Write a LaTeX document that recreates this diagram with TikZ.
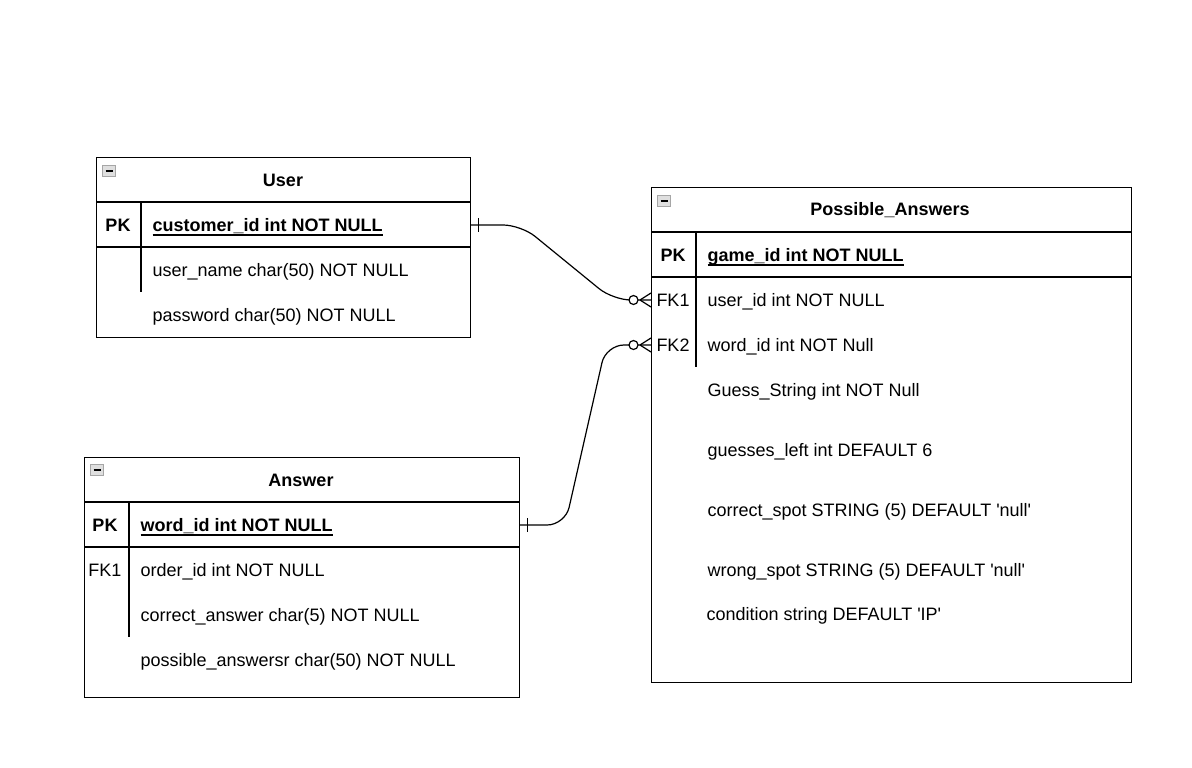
\documentclass[tikz,border=0pt]{standalone}
\usepackage{fontspec}
\setmainfont{Liberation Sans}
\usetikzlibrary{calc,positioning}
\tikzset{
  tabla/.style={draw=black,line width=1.1pt,anchor=north west,inner sep=0pt},
  titulo/.style={font=\fontsize{18}{21}\selectfont\bfseries,inner sep=0pt},
  campo/.style={anchor=west,font=\fontsize{18}{21}\selectfont,inner sep=0pt,yshift=-2pt},
  clave/.style={font=\fontsize{18}{21}\selectfont,inner sep=0pt},
  icono/.style={draw=gray!70,fill=gray!25,line width=0.6pt,minimum width=13pt,minimum height=11pt,inner sep=0pt},
  rel/.style={line width=1.2pt,rounded corners=18pt}
}
% subrayado propio (tapa el guion bajo)
\newcommand{\subr}[1]{\setbox0\hbox{#1}\rlap{\rule[-4pt]{\wd0}{1.6pt}}\box0}
% marcas de cardinalidad
\newcommand{\uno}[1]{\draw[line width=1.2pt] ($(#1)+(7,-7)$) -- ($(#1)+(7,7)$);}
\newcommand{\ceromuchos}[1]{%
  \draw[line width=1.2pt] ($(#1)+(-11,0)$) -- ($(#1)+(0,-7)$) ($(#1)+(-11,0)$) -- ($(#1)+(0,7)$);
  \draw[line width=1.2pt,fill=white] ($(#1)+(-17.5,0)$) circle (4.5);}

\begin{document}
\begin{tikzpicture}[x=1pt,y=-1pt,line width=1.1pt]
\useasboundingbox (0,0) rectangle (1192,768);
% tabla User
\node[tabla,minimum width=374pt,minimum height=180pt] (usr) at (96,157) {};
\node[icono] (usr-ic) at (109,171) {\rule{7pt}{1.8pt}};
\node[titulo] (usr-t) at (283,180) {User};
\draw (96,202) -- (470,202); \draw (96,247) -- (470,247);
\draw (141,202) -- (141,292);
\node[clave,font=\fontsize{18}{21}\selectfont\bfseries] (usr-pk) at (118,225) {PK};
\node[campo,font=\fontsize{18}{21}\selectfont\bfseries] (usr-id) at (152,225) {\subr{customer\_id int NOT NULL}};
\node[campo] (usr-nom) at (152,270) {user\_name char(50) NOT NULL};
\node[campo] (usr-pw) at (152,315) {password char(50) NOT NULL};
% tabla Possible_Answers
\node[tabla,minimum width=480pt,minimum height=495pt] (pa) at (651,187) {};
\node[icono] (pa-ic) at (664,201) {\rule{7pt}{1.8pt}};
\node[titulo] (pa-t) at (890,210) {Possible\_Answers};
\draw (651,232) -- (1131,232); \draw (651,277) -- (1131,277);
\draw (696,232) -- (696,367);
\node[clave,font=\fontsize{18}{21}\selectfont\bfseries] (pa-pk) at (673,255) {PK};
\node[clave] (pa-k1) at (673,300) {FK1};
\node[clave] (pa-k2) at (673,345) {FK2};
\node[campo,font=\fontsize{18}{21}\selectfont\bfseries] (pa-id) at (707,255) {\subr{game\_id int NOT NULL}};
\node[campo] (pa-fk1) at (707,300) {user\_id int NOT NULL};
\node[campo] (pa-fk2) at (707,345) {word\_id int NOT Null};
\node[campo] (pa-gs) at (707,390) {Guess\_String int NOT Null};
\node[campo] (pa-gl) at (707,450) {guesses\_left int DEFAULT 6};
\node[campo] (pa-cs) at (707,510) {correct\_spot STRING (5) DEFAULT \textquotesingle null\textquotesingle};
\node[campo] (pa-ws) at (707,570) {wrong\_spot STRING (5) DEFAULT \textquotesingle null\textquotesingle};
\node[campo] (pa-co) at (706,614) {condition string DEFAULT \textquotesingle IP\textquotesingle};
% tabla Answer
\node[tabla,minimum width=435pt,minimum height=240pt] (ans) at (84,457) {};
\node[icono] (ans-ic) at (97,470) {\rule{7pt}{1.8pt}};
\node[titulo] (ans-t) at (301,480) {Answer};
\draw (84,502) -- (519,502); \draw (84,547) -- (519,547);
\draw (129,502) -- (129,637);
\node[clave,font=\fontsize{18}{21}\selectfont\bfseries] (ans-pk) at (105,525) {PK};
\node[clave] (ans-k1) at (105,570) {FK1};
\node[campo,font=\fontsize{18}{21}\selectfont\bfseries] (ans-id) at (140,525) {\subr{word\_id int NOT NULL}};
\node[campo] (ans-ord) at (140,570) {order\_id int NOT NULL};
\node[campo] (ans-ca) at (140,615) {correct\_answer char(5) NOT NULL};
\node[campo] (ans-pa) at (140,660) {possible\_answersr char(50) NOT NULL};
% relaciones
\coordinate (r1a) at (usr.east |- usr-pk);
\coordinate (r1b) at (pa.west |- pa-k1);
\coordinate (r2a) at (ans.east |- ans-pk);
\coordinate (r2b) at (pa.west |- pa-k2);
\draw[rel] (r1a) -- ++(50,0) -- ($(r1b)+(-38,0)$) -- (r1b);
\draw[rel] (r2a) -- ++(45,0) -- ($(r2b)+(-45,0)$) -- (r2b);
\uno{r1a} \uno{r2a}
\ceromuchos{r1b} \ceromuchos{r2b}
\end{tikzpicture}
\end{document}
